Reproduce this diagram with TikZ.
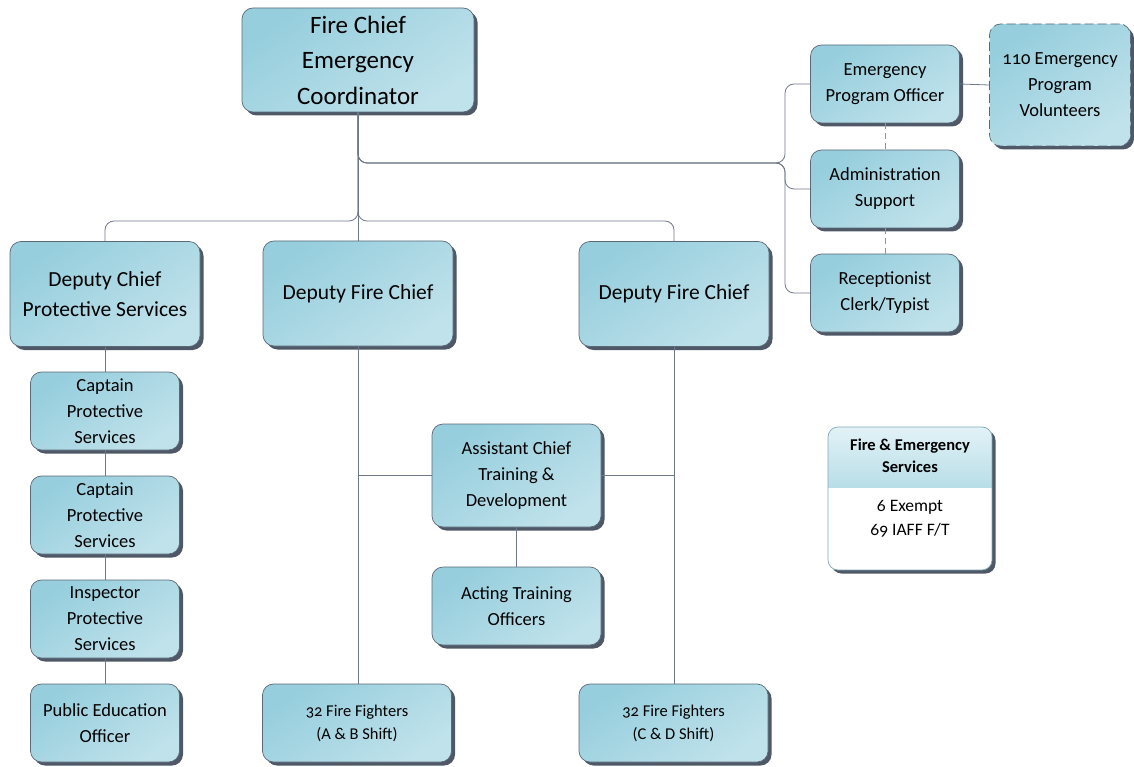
\documentclass[tikz,border=0pt]{standalone}
\usepackage{fontspec}
\setmainfont{Carlito}[Numbers=OldStyle]
\usetikzlibrary{shadows}
\definecolor{boxA}{HTML}{96CEDD}
\definecolor{boxB}{HTML}{C0E2EB}
\definecolor{edgec}{HTML}{5B6878}
\definecolor{shad}{HTML}{4E5866}
\definecolor{connc}{HTML}{6E7888}
\definecolor{hdrA}{HTML}{E2F2F6}
\definecolor{hdrB}{HTML}{B8DEE8}
\definecolor{legedge}{HTML}{7FA9B8}
\newcommand{\fsChief}{\fontsize{25}{35.5}\selectfont}
\newcommand{\fsDep}{\fontsize{21.5}{30}\selectfont}
\newcommand{\fsSmall}{\fontsize{18.5}{26}\selectfont}
\newcommand{\fsFF}{\fontsize{16.5}{23}\selectfont}
\newcommand{\fsLeg}{\fontsize{16.5}{22}\selectfont}
\newcommand{\fsLegBody}{\fontsize{17.5}{24}\selectfont}
\tikzset{
  box/.style={draw=edgec, line width=0.7pt, rounded corners=11pt,
    top color=boxA, bottom color=boxB, shading angle=35,
    general shadow={fill=shad, shadow xshift=3.5pt, shadow yshift=-3.5pt},
    align=center, inner sep=2pt, text=black},
  chiefbox/.style={box, minimum width=232pt, minimum height=104pt, font=\fsChief},
  depbox/.style={box, minimum width=190pt, minimum height=105pt, font=\fsDep},
  smallbox/.style={box, minimum width=149pt, minimum height=78pt, font=\fsSmall},
  midbox/.style={box, minimum width=169pt, minimum height=78pt, font=\fsSmall},
  ffbox/.style={box, minimum width=189pt, minimum height=78pt, font=\fsFF},
  conn/.style={draw=connc, line width=0.8pt},
  rconn/.style={conn, rounded corners=9pt},
  dconn/.style={draw=connc!80, line width=0.8pt, dash pattern=on 6pt off 4pt},
}
\begin{document}
\begin{tikzpicture}[x=1pt,y=-1pt]
\useasboundingbox (0,0) rectangle (1134,767);

% nodes
\node[chiefbox] (chief) at (358,60) {Fire Chief\\Emergency\\Coordinator};
\node[smallbox] (epo) at (885,84) {Emergency\\Program Officer};
\node[box, minimum width=141pt, minimum height=122pt, font=\fsSmall, dash pattern=on 9pt off 4pt] (vol) at (1060,85) {110 Emergency\\Program\\Volunteers};
\node[smallbox] (adm) at (885,189) {Administration\\Support};
\node[smallbox] (rec) at (885,293) {Receptionist\\Clerk/Typist};

\node[depbox] (dpl) at (105,294) {Deputy Chief\\Protective Services};
\node[depbox] (dpm) at (358,293.5) {Deputy Fire Chief};
\node[depbox] (dpr) at (674,294) {Deputy Fire Chief};

\node[smallbox] (cap1) at (105,411) {Captain\\Protective\\Services};
\node[smallbox] (cap2) at (105,515) {Captain\\Protective\\Services};
\node[smallbox] (insp) at (105,619) {Inspector\\Protective\\Services};
\node[smallbox] (pub) at (105,723) {Public Education\\Officer};

\node[box, minimum width=169pt, minimum height=103pt, font=\fsSmall] (asst) at (516.5,475.5) {Assistant Chief\\Training \&\\Development};
\node[midbox] (act) at (516.5,606) {Acting Training\\Officers};

\node[ffbox] (ffab) at (357,723) {32 Fire Fighters\\(A \& B Shift)};
\node[ffbox] (ffcd) at (673.5,723) {32 Fire Fighters\\(C \& D Shift)};

% connectors: chief to deputies
\draw[conn] (chief.south) -- (dpm.north);
\draw[rconn] (chief.south) -- (358,221) -- (105,221) -- (dpl.north);
\draw[rconn] (chief.south) -- (358,221) -- (674,221) -- (dpr.north);

% chief to staff bracket
\draw[rconn] (chief.south) -- (358,163) -- (785,163) -- (785,84) -- (epo.west);
\draw[rconn] (chief.south) -- (358,163) -- (785,163) -- (785,189) -- (adm.west);
\draw[rconn] (chief.south) -- (358,163) -- (785,163) -- (785,293) -- (rec.west);
\draw[conn] (epo.east) -- (vol.west);
\draw[dconn] (epo.south) -- (adm.north);
\draw[dconn] (adm.south) -- (rec.north);

% left column
\draw[conn] (dpl.south) -- (cap1.north);
\draw[conn] (cap1.south) -- (cap2.north);
\draw[conn] (cap2.south) -- (insp.north);
\draw[conn] (insp.south) -- (pub.north);

% middle and right
\draw[conn] (dpm.south) -- (ffab.north -| dpm.south);
\draw[conn] (asst.west -| dpm.south) -- (asst.west);
\draw[conn] (dpr.south) -- (ffcd.north -| dpr.south);
\draw[conn] (asst.east) -- (asst.east -| dpr.south);
\draw[conn] (asst.south) -- (act.north);

% legend
\path[fill=shad, rounded corners=10pt] (831.5,430.5) rectangle (995.5,573.5);
\begin{scope}
  \clip[rounded corners=10pt] (828,427) rectangle (992,570);
  \fill[white] (828,427) rectangle (992,570);
  \shade[top color=hdrA, bottom color=hdrB] (828,427) rectangle (992,487);
\end{scope}
\draw[draw=legedge, line width=0.7pt, rounded corners=10pt] (828,427) rectangle (992,570);
\node[font=\fsLeg\bfseries, align=center] (leghead) at (910,456) {Fire \& Emergency\\Services};
\node[font=\fsLegBody, align=center] (legbody) at (910,519) {6 Exempt\\69 IAFF F/T};
\end{tikzpicture}
\end{document}
